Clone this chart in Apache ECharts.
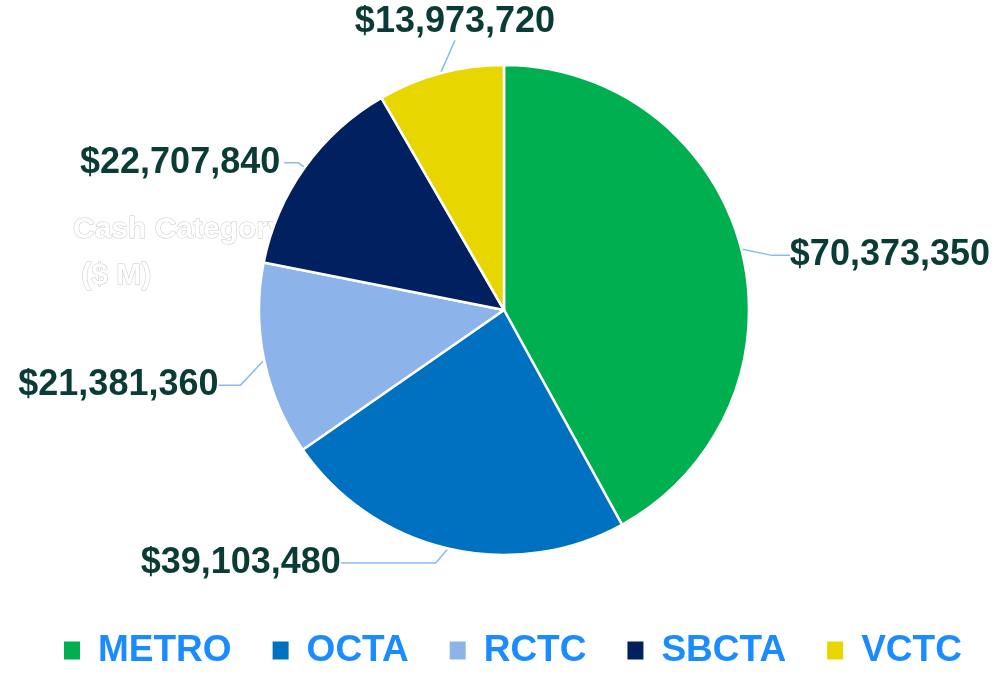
<!DOCTYPE html>
<html>
<head>
<meta charset="utf-8">
<script src="https://cdn.jsdelivr.net/npm/echarts@6/dist/echarts.min.js"></script>
<style>
  html, body { margin: 0; padding: 0; background: #fff; }
  #chart { width: 1000px; height: 678px; }
</style>
</head>
<body>
<div id="chart"></div>
<script>
// agency names and amounts
const categories = ['METRO', 'OCTA', 'RCTC', 'SBCTA', 'VCTC'];
const amounts = [70373350, 39103480, 21381360, 22707840, 13973720];
const colors = ['#00b050', '#0070c0', '#8db4ea', '#002060', '#e8d600'];
// label line lengths per slice [length, length2]
const lineLens = [[15, 18], [18, 95], [15, 22], [8, 14], [25, 0]];
// extra label nudges [dx, dy]
const labelShift = [[12, 10], [-4, -3], [-5, 22], [0, 0], [125, -27]];

const fmt = function (v) {
    return '$' + v.toLocaleString('en-US');
};

const chart = echarts.init(document.getElementById('chart'));

const option = {
    title: {
        text: 'Cash Category\n ($ M)',
        left: 68,
        top: 202,
        z: 0,
        textStyle: {
            fontFamily: 'Liberation Sans',
            fontWeight: 'bold',
            fontSize: 30,
            lineHeight: 46,
            color: '#ffffff',
            textBorderColor: '#c8c8c8',
            textBorderWidth: 1
        }
    },
    legend: {
        bottom: 4,
        left: 57,
        itemWidth: 18,
        itemHeight: 20,
        itemGap: 39,
        icon: 'rect',
        textStyle: {
            fontFamily: 'Liberation Sans',
            fontWeight: 'bold',
            fontSize: 37,
            color: '#1a8cff',
            padding: [0, 0, 0, 12]
        },
        data: categories
    },
    series: [
        {
            type: 'pie',
            z: 2,
            center: [504, 310],
            radius: 245,
            startAngle: 90,
            clockwise: true,
            itemStyle: {
                borderColor: '#ffffff',
                borderWidth: 2.5
            },
            label: {
                formatter: function (p) { return fmt(p.value); },
                fontFamily: 'Liberation Sans',
                fontWeight: 'bold',
                fontSize: 36,
                color: '#0b3b35',
                distanceToLabelLine: 4
            },
            labelLine: {
                lineStyle: { color: '#86bdf2', width: 1.5 }
            },
            labelLayout: function (params) {
                const s = labelShift[params.dataIndex];
                if (!s[0] && !s[1]) return {};
                return {
                    x: params.labelRect.x + s[0],
                    y: params.labelRect.y + s[1],
                    align: 'left',
                    verticalAlign: 'top'
                };
            },
            data: categories.map(function (c, i) {
                return {
                    name: c,
                    value: amounts[i],
                    itemStyle: { color: colors[i] },
                    labelLine: { length: lineLens[i][0], length2: lineLens[i][1] }
                };
            })
        }
    ]
};

chart.setOption(option);
</script>
</body>
</html>
